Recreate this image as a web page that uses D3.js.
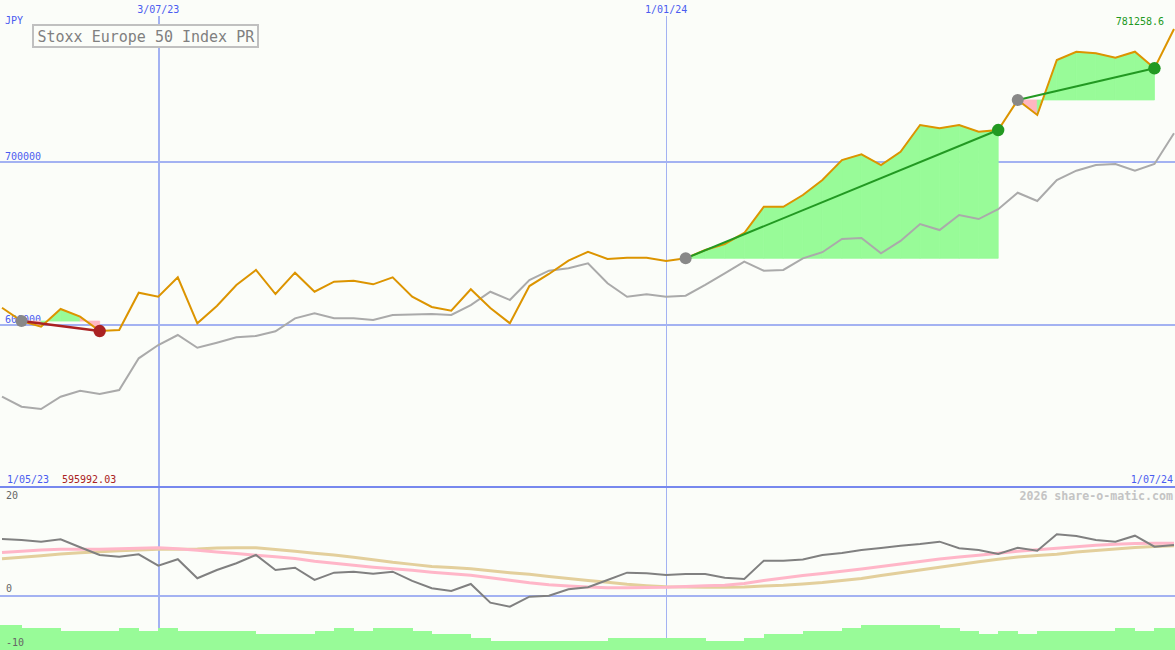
<!DOCTYPE html>
<html><head><meta charset="utf-8">
<script src="https://cdn.jsdelivr.net/npm/d3@7"></script>
<style>
html,body{margin:0;padding:0;background:#fbfdf9;}
svg{display:block;}
text{font-family:"DejaVu Sans Mono",monospace;}
</style></head><body>
<svg id="c" width="1175" height="650"></svg>
<script>
// ---- data ----
const startDate = new Date(2023, 4, 8);
const endDate = new Date(2024, 6, 1);
const tickDates = [new Date(2023, 6, 3), new Date(2024, 0, 1)];
const tickLabels = ["3/07/23", "1/01/24"];
const priceTicks = [600000, 700000];
const priceTickLabels = ["600000", "700000"];
const oscTicks = [20, 0, -10];
const oscTickLabels = ["20", "0", "-10"];
const rangeStartLabel = "1/05/23";
const rangeEndLabel = "1/07/24";
const minLabel = "595992.03";
const lastLabel = "781258.6";

const indexPrice = [610300, 602100, 598650, 609500, 604800, 595992.03, 596600, 619500, 617050, 628950,
  600750, 611350, 624250, 633450, 618700, 631800, 620100, 626250, 626850, 624650,
  628950, 617050, 610750, 608450, 621600, 610100, 600750, 623600, 631000, 639150,
  644650, 640200, 641000, 641000, 638950, 640600, 645700, 649400, 656150, 672250,
  672250, 679450, 688650, 700900, 704400, 697850, 706000, 722400, 720350, 722400,
  718300, 719300, 737750, 728550, 762250, 767350, 766400, 763700, 767350, 757200, 781258.6];
const comparePrice = [555700, 549550, 548150, 555700, 559400, 557350, 559800, 579250, 587400, 593550,
  585750, 588850, 592150, 592950, 595850, 603800, 606850, 603800, 603800, 602750,
  605850, 606150, 606450, 605850, 611950, 620100, 615050, 627300, 633000, 634500,
  637550, 625300, 617050, 618550, 617050, 617650, 624250, 631400, 638550, 633000,
  633450, 640600, 644350, 652450, 653050, 643700, 651250, 661650, 657950, 667200,
  664700, 670700, 680850, 675750, 688650, 694350, 697850, 698450, 694350, 698450, 717300];
const oscillator = [10.44, 10.25, 9.94, 10.38, 8.91, 7.49, 7.18, 7.62, 5.52, 6.70,
  3.20, 4.73, 5.96, 7.49, 4.73, 5.15, 2.89, 4.23, 4.42, 4.05,
  4.42, 2.71, 1.36, 0.87, 2.15, -1.29, -2.02, -0.18, 0, 1.18,
  1.55, 2.89, 4.23, 4.12, 3.81, 3.99, 3.99, 3.31, 3.07, 6.44,
  6.44, 6.66, 7.49, 7.86, 8.41, 8.78, 9.20, 9.52, 9.94, 8.72,
  8.41, 7.68, 8.83, 8.28, 11.30, 10.99, 10.25, 9.94, 11.04, 9.02, 9.33];
const oscFast = [7.95, 8.17, 8.41, 8.54, 8.54, 8.54, 8.65, 8.74, 8.83, 8.63,
  8.37, 8.04, 7.75, 7.44, 7.16, 6.85, 6.33, 5.95, 5.60, 5.25,
  4.95, 4.66, 4.33, 4.05, 3.74, 3.29, 2.83, 2.37, 2.01, 1.79,
  1.58, 1.47, 1.47, 1.51, 1.55, 1.69, 1.82, 1.93, 2.25, 2.80,
  3.24, 3.70, 4.09, 4.51, 4.91, 5.37, 5.83, 6.29, 6.74, 7.12,
  7.45, 7.80, 8.17, 8.47, 8.74, 9.00, 9.28, 9.46, 9.61, 9.64, 9.64];
const oscSlow = [6.79, 7.05, 7.36, 7.68, 7.88, 8.08, 8.28, 8.41, 8.54, 8.54,
  8.61, 8.76, 8.83, 8.80, 8.49, 8.17, 7.82, 7.47, 7.05, 6.63,
  6.15, 5.76, 5.37, 5.17, 4.97, 4.60, 4.23, 3.92, 3.53, 3.18,
  2.80, 2.45, 2.08, 1.84, 1.66, 1.60, 1.55, 1.55, 1.60, 1.77,
  1.91, 2.15, 2.43, 2.80, 3.17, 3.72, 4.23, 4.73, 5.21, 5.72,
  6.24, 6.70, 7.12, 7.40, 7.64, 8.04, 8.32, 8.60, 8.85, 9.06, 9.20];
const bars = [8, 7, 7, 6, 6, 6, 7, 6, 7, 6,
  6, 6, 6, 5, 5, 5, 6, 7, 6, 7,
  7, 6, 5, 5, 4, 3, 3, 3, 3, 3,
  3, 4, 4, 4, 4, 4, 3, 3, 4, 5,
  5, 6, 6, 7, 8, 8, 8, 8, 7, 6,
  5, 6, 5, 6, 6, 6, 6, 7, 6, 7];
const tradeStart = [1, 35, 52];
const tradeEnd = [5, 51, 59];
const tradeResult = ["loss", "win", "win"];

// ---- setup ----
const dates = d3.timeMonday.range(startDate, d3.timeDay.offset(endDate, 1));
const W = 1175, H = 650;
const svg = d3.select("#c");
svg.append("rect").attr("width", W).attr("height", H).attr("fill", "#fbfdf9");

const x = d3.scaleTime().domain([startDate, endDate]).range([2, 1174]);
const y = d3.scaleLinear().domain([600000, 700000]).range([324.5, 161.5]);
const yo = d3.scaleLinear().domain([-10, 20]).range([650, 487]);
const yb = d3.scaleLinear().domain([0, 8]).range([650, 625]);

const gridC = "#a3b2f2", blue = "#4a5cf0";

// vertical grid lines
svg.append("g").selectAll("line").data(tickDates).join("line")
  .attr("x1", d => Math.round(x(d)) + 0.5).attr("x2", d => Math.round(x(d)) + 0.5)
  .attr("y1", 16).attr("y2", 650)
  .attr("stroke", gridC).attr("stroke-width", (d, i) => i === 0 ? 2 : 1)
  .attr("shape-rendering", "crispEdges");
svg.append("g").selectAll("text").data(tickDates).join("text")
  .attr("x", d => x(d)).attr("y", 13).attr("text-anchor", "middle")
  .attr("font-size", 10).attr("fill", blue).text((d, i) => tickLabels[i]);

// horizontal price grid
svg.append("g").selectAll("line").data(priceTicks).join("line")
  .attr("x1", 0).attr("x2", W).attr("y1", d => y(d)).attr("y2", d => y(d))
  .attr("stroke", gridC).attr("stroke-width", 2).attr("shape-rendering", "crispEdges");
svg.append("g").selectAll("text").data(priceTicks).join("text")
  .attr("x", 5).attr("y", d => y(d) - 2).attr("font-size", 10).attr("fill", blue)
  .text((d, i) => priceTickLabels[i]);

// bottom panel
svg.append("line").attr("x1", 0).attr("x2", W).attr("y1", yo(0)).attr("y2", yo(0))
  .attr("stroke", gridC).attr("stroke-width", 2).attr("shape-rendering", "crispEdges");
svg.append("line").attr("x1", 0).attr("x2", W).attr("y1", yo(20)).attr("y2", yo(20))
  .attr("stroke", "#7788ee").attr("stroke-width", 2.5).attr("shape-rendering", "crispEdges");

// histogram bars
svg.append("g").selectAll("rect").data(bars).join("rect")
  .attr("x", (d, i) => i === 0 ? 0 : x(dates[i]))
  .attr("width", (d, i) => x(dates[i + 1]) - (i === 0 ? 0 : x(dates[i])) + 0.5)
  .attr("y", d => yb(d)).attr("height", d => yb(0) - yb(d))
  .attr("fill", "#98fb98").attr("shape-rendering", "crispEdges");

// osc tick labels
const oscLabelY = [499, 592, 645.5];
svg.append("g").selectAll("text").data(oscTicks).join("text")
  .attr("x", 6).attr("y", (d, i) => oscLabelY[i]).attr("font-size", 10).attr("fill", "#666")
  .text((d, i) => oscTickLabels[i]);

const oscLine = arr => d3.line().x((d, i) => x(dates[i])).y(d => yo(d))(arr);
svg.append("path").attr("d", oscLine(oscSlow)).attr("fill", "none").attr("stroke", "#e3cf9c").attr("stroke-width", 3);
svg.append("path").attr("d", oscLine(oscFast)).attr("fill", "none").attr("stroke", "#ffb6c8").attr("stroke-width", 3);
svg.append("path").attr("d", oscLine(oscillator)).attr("fill", "none").attr("stroke", "#808080").attr("stroke-width", 2);

// trade fills
const fillG = svg.append("g");
tradeStart.forEach((s, t) => {
  const e = tradeEnd[t];
  const base = indexPrice[s];
  for (let i = s; i < e; i++) {
    const seg = [i, i + 1];
    const area = d3.area().x(j => x(dates[j])).y0(y(base)).y1(j => y(indexPrice[j]));
    const col = indexPrice[i + 1] >= base ? "#98fb98" : "#ffb6c1";
    fillG.append("path").attr("d", area(seg))
      .attr("fill", col).attr("stroke", col).attr("stroke-width", 0.8).attr("stroke-linejoin", "round");
  }
});

// price lines
const priceLine = arr => d3.line().x((d, i) => x(dates[i])).y(d => y(d))(arr);
svg.append("path").attr("d", priceLine(comparePrice)).attr("fill", "none").attr("stroke", "#aaaaaa").attr("stroke-width", 2);
svg.append("path").attr("d", priceLine(indexPrice)).attr("fill", "none").attr("stroke", "#dc9400").attr("stroke-width", 2);

// trade lines and dots
tradeStart.forEach((s, t) => {
  const e = tradeEnd[t];
  const col = tradeResult[t] === "win" ? "#229922" : "#aa2222";
  svg.append("line").attr("x1", x(dates[s])).attr("y1", y(indexPrice[s]))
    .attr("x2", x(dates[e])).attr("y2", y(indexPrice[e]))
    .attr("stroke", col).attr("stroke-width", tradeResult[t] === "win" ? 2 : 2.5);
  svg.append("circle").attr("cx", x(dates[s])).attr("cy", y(indexPrice[s])).attr("r", 6).attr("fill", "#888888");
  svg.append("circle").attr("cx", x(dates[e])).attr("cy", y(indexPrice[e])).attr("r", 6.2).attr("fill", col);
});

// texts
svg.append("text").attr("x", 5).attr("y", 24).attr("font-size", 10).attr("fill", blue).text("JPY");
svg.append("text").attr("x", 1164).attr("y", 25).attr("text-anchor", "end").attr("font-size", 10).attr("fill", "#229922").text(lastLabel);
svg.append("text").attr("x", 7).attr("y", 483).attr("font-size", 10).attr("fill", blue).text(rangeStartLabel);
svg.append("text").attr("x", 62).attr("y", 483).attr("font-size", 10).attr("fill", "#aa2222").text(minLabel);
svg.append("text").attr("x", 1173).attr("y", 483).attr("text-anchor", "end").attr("font-size", 10).attr("fill", blue).text(rangeEndLabel);
svg.append("text").attr("x", 1173).attr("y", 500).attr("text-anchor", "end").attr("font-size", 11.6).attr("font-weight", "bold").attr("fill", "#c4c4c4").text("2026 share-o-matic.com");

// title box
svg.append("rect").attr("x", 33).attr("y", 25).attr("width", 225).attr("height", 22)
  .attr("fill", "#fbfdf9").attr("stroke", "#c0c0c0").attr("stroke-width", 2);
svg.append("text").attr("x", 37.5).attr("y", 41.5).attr("font-size", 15).attr("fill", "#808080").text("Stoxx Europe 50 Index PR");
</script>
</body></html>
